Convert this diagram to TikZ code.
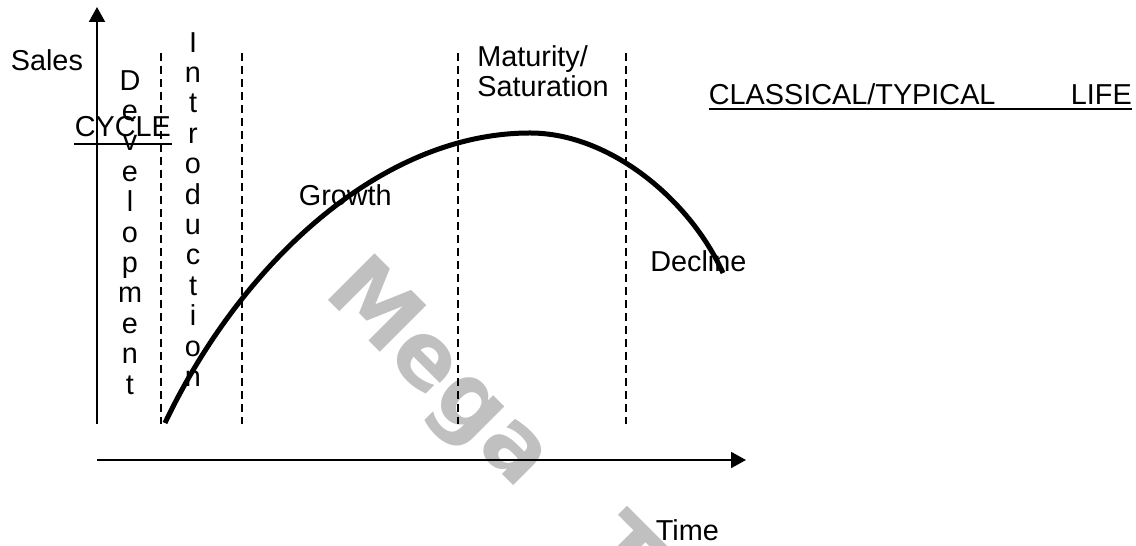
\documentclass[tikz,border=0pt]{standalone}
\usepackage{fontspec}
\setmainfont{Liberation Sans}
\newfontfamily\wmfont{DejaVu Sans}
\usepackage{tikz}
\usetikzlibrary{arrows.meta, positioning}
\definecolor{wmgray}{RGB}{192,192,192}
\tikzset{
	axis/.style={line width=0.04cm, -{Triangle[length=0.3cm, width=0.32cm]}},
	phase/.style={line width=0.026cm, dash pattern=on 0.16cm off 0.1cm},
	plc/.style={line width=0.1cm},
	lbl/.style={inner sep=0pt, font=\fontsize{16.4}{17.3}\selectfont},
	stack/.style={lbl, align=center, anchor=north},
	uline/.style={line width=0.04cm},
	wmark/.style={inner sep=0pt, text=wmgray, rotate=-45, anchor=base west,
		font=\wmfont\bfseries\fontsize{51.5}{55}\selectfont}
}

\begin{document}
\begin{tikzpicture}[x=0.02cm, y=-0.02cm]
	\useasboundingbox (0,0) rectangle (1136,546);
	% watermark, behind everything
	\node[wmark] (wm) at (322,294) {Mega\hspace{1.75cm}T};
	% axes
	\coordinate (o) at (97,424);
	\coordinate (ytip) at (97,7);
	\coordinate (xs) at (97,460);
	\coordinate (xtip) at (746,460);
	\draw[axis] (o) -- (ytip);
	\draw[axis] (xs) -- (xtip);
	% stage borders
	\foreach \x in {161,242,458,626}
		\draw[phase] (\x,53) -- (\x,424);
	% life cycle curve
	\coordinate (st) at (165,423);
	\coordinate (pk) at (530,133);
	\coordinate (en) at (723,273);
	\draw[plc] (st) .. controls (240,265) and (380,133) .. (pk)
		.. controls (610,133) and (690,200) .. (en);
	% labels
	\node[lbl, anchor=base west] (sales) at (10.5,71) {Sales};
	\node[lbl, anchor=base west] (time) at (655.5,541) {Time};
	\node[stack] (dev) at (130,70) {D\\e\\v\\e\\l\\o\\p\\m\\e\\n\\t};
	\node[stack] (intro) at (193,32) {I\\n\\t\\r\\o\\d\\u\\c\\t\\i\\o\\n};
	\node[lbl, anchor=base west] (growth) at (298.5,206) {Growth};
	\node[lbl, align=left, anchor=north west] (mat) at (477,45) {Maturity/\\Saturation};
	\node[lbl, anchor=base west] (decl) at (650,272) {Decline};
	% title, split over two places
	\node[lbl, anchor=base west, inner ysep=0.06cm] (title) at (708.5,105)
		{\makebox[8.46cm][s]{CLASSICAL/TYPICAL\hfill LIFE}};
	\draw[uline] (title.south west) -- (title.south east);
	\node[lbl, anchor=base west, inner xsep=0.01cm, inner ysep=0.12cm] (cycle) at (74,137) {CYCLE};
	\draw[uline] (cycle.south west) -- (cycle.south east);
\end{tikzpicture}
\end{document}
